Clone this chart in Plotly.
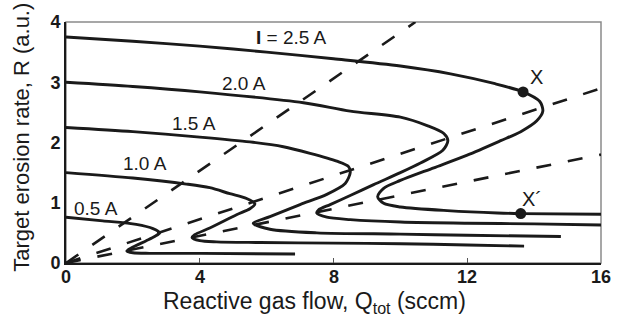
import plotly.graph_objects as go

# Target erosion rate R (a.u.) versus reactive gas flow Q_tot (sccm)
# for five discharge currents; each curve is the full S-shaped hysteresis loop.
q_25 = [0, 2, 4, 6, 8, 10, 11.5, 12.8, 13.67, 14.17, 14.26, 14.08, 13.6, 13.0, 12.0,
        11.0, 10.0, 9.5, 9.32, 9.5, 10.0, 11.4, 12.9, 13.6, 16]
r_25 = [3.75, 3.68, 3.6, 3.5, 3.39, 3.27, 3.14, 2.98, 2.84, 2.68, 2.52, 2.36, 2.18, 2.03, 1.79,
        1.58, 1.37, 1.24, 1.1, 0.99, 0.93, 0.87, 0.83, 0.82, 0.81]

q_20 = [0, 2, 4, 7.1, 8.5, 10, 10.8, 11.3, 11.42, 11.27, 10.6, 10.0, 9.2, 8.5, 7.9, 7.55, 7.5,
        7.8, 8.5, 10, 12, 14, 16]
r_20 = [3.0, 2.93, 2.84, 2.66, 2.52, 2.42, 2.28, 2.15, 2.03, 1.87, 1.66, 1.5, 1.3, 1.12, 0.97, 0.88, 0.83,
        0.76, 0.72, 0.68, 0.66, 0.65, 0.63]

q_15 = [0, 2, 4, 5.5, 6.5, 7.3, 8.1, 8.45, 8.5, 8.35, 7.8, 7.0, 6.1, 5.6, 6.1, 7.5, 10, 12, 14.8]
r_15 = [2.25, 2.18, 2.09, 2.01, 1.93, 1.82, 1.69, 1.6, 1.5, 1.32, 1.14, 0.97, 0.77, 0.66, 0.56, 0.5,
        0.48, 0.46, 0.44]

q_10 = [0, 2, 3.6, 4.3, 4.9, 5.4, 5.65, 5.5, 5.1, 4.3, 3.85, 3.77, 4.0, 4.5, 5.8, 8, 10, 12, 13.7]
r_10 = [1.5, 1.41, 1.31, 1.25, 1.15, 1.07, 0.98, 0.9, 0.8, 0.58, 0.47, 0.42, 0.37, 0.35, 0.34, 0.33,
        0.32, 0.3, 0.28]

q_05 = [0, 1.1, 2.1, 2.6, 2.8, 2.65, 2.4, 1.95, 1.82, 2.0, 2.5, 4, 6.85]
r_05 = [0.76, 0.7, 0.64, 0.57, 0.5, 0.44, 0.37, 0.25, 0.2, 0.17, 0.16, 0.16, 0.15]

# Dashed guide lines from the origin
guide_q = [[0, 10.45], [0, 16], [0, 16]]
guide_r = [[0, 4.0], [0, 2.9], [0, 1.8]]

# Marked operating points X and X'
point_q = [13.67, 13.6]
point_r = [2.84, 0.82]
point_names = ["X", "X´"]
point_label_q = [14.08, 13.93]
point_label_r = [3.08, 1.06]

# Current labels
current_labels = ["<b>I</b> = 2.5 A", "2.0 A", "1.5 A", "1.0 A", "0.5 A"]
current_label_q = [6.73, 5.32, 3.83, 2.36, 0.9]
current_label_r = [3.74, 2.98, 2.31, 1.645, 0.91]

x_ticks = [0, 4, 8, 12, 16]
x_tick_text = ["0", "4", "8", "12", "16"]
y_ticks = [0, 1, 2, 3, 4]

INK = "#1a1a1a"
FONT = "Liberation Sans, Arial, Helvetica, sans-serif"

fig = go.Figure()

for gq, gr in zip(guide_q, guide_r):
    fig.add_trace(go.Scatter(x=gq, y=gr, mode="lines",
                             line=dict(color=INK, width=2.6, dash="15px,17px"),
                             hoverinfo="skip", showlegend=False))

for qs, rs in [(q_25, r_25), (q_20, r_20), (q_15, r_15), (q_10, r_10), (q_05, r_05)]:
    fig.add_trace(go.Scatter(x=qs, y=rs, mode="lines",
                             line=dict(color=INK, width=2.9, shape="spline", smoothing=0.8),
                             showlegend=False))

fig.add_trace(go.Scatter(x=point_q, y=point_r, mode="markers",
                         marker=dict(color=INK, size=11), showlegend=False))

annotations = []
for txt, q, r in zip(current_labels, current_label_q, current_label_r):
    annotations.append(dict(x=q, y=r, xref="x", yref="y", text=txt, showarrow=False,
                            xanchor="center", yanchor="middle",
                            font=dict(family=FONT, size=19, color=INK)))
for txt, q, r in zip(point_names, point_label_q, point_label_r):
    annotations.append(dict(x=q, y=r, xref="x", yref="y", text=txt, showarrow=False,
                            xanchor="center", yanchor="middle",
                            font=dict(family=FONT, size=20, color=INK)))

# x tick labels set snugly under the axis
for txt, q in zip(x_tick_text, x_ticks):
    annotations.append(dict(x=q, y=-0.0565, xref="x", yref="paper", text=txt, showarrow=False,
                            xanchor="center", yanchor="middle",
                            font=dict(family=FONT, size=18, color=INK, weight="bold")))

annotations.append(dict(x=0.4636, y=-0.165, xref="paper", yref="paper",
                        xanchor="center", yanchor="middle",
                        text="Reactive gas flow, Q<sub>tot</sub> (sccm)", showarrow=False,
                        font=dict(family=FONT, size=23, color=INK)))
annotations.append(dict(x=-0.0822, y=0.52, xref="paper", yref="paper",
                        xanchor="center", yanchor="middle",
                        text="Target erosion rate, R (a.u.)", showarrow=False, textangle=-90,
                        font=dict(family=FONT, size=22, color=INK)))

fig.update_layout(
    width=621, height=321,
    margin=dict(l=66, r=20, t=15, b=58),
    paper_bgcolor="white", plot_bgcolor="white",
    annotations=annotations,
    shapes=[dict(type="rect", xref="paper", yref="paper", x0=0, y0=0, x1=1, y1=1,
                 line=dict(color="#8a8a8a", width=1.5), layer="below")],
    font=dict(family=FONT, color=INK),
)

fig.update_xaxes(range=[0, 16], tickvals=x_ticks, ticks="inside", ticklen=5, tickwidth=1,
                 tickcolor="#555", showgrid=False, zeroline=False, showticklabels=False,
                 showline=True, linecolor=INK, linewidth=2)
fig.update_yaxes(range=[0, 4], tickvals=y_ticks, ticks="", showgrid=False, zeroline=False,
                 showline=True, linecolor=INK, linewidth=2,
                 tickfont=dict(family=FONT, size=18, color=INK, weight="bold"))

fig.write_html("out.html")
